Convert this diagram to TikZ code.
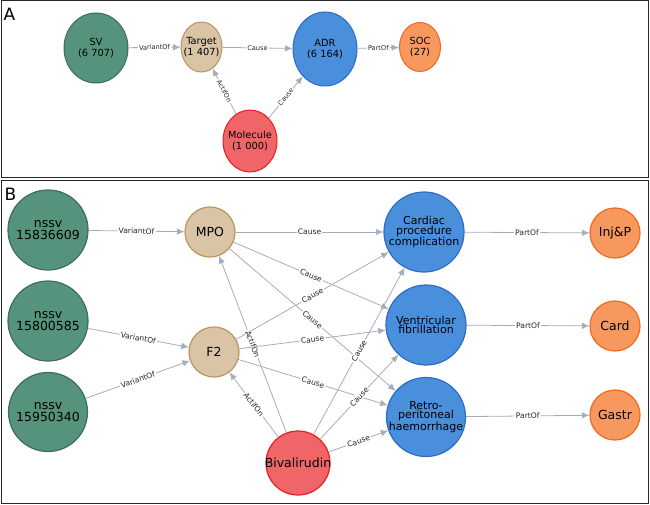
\documentclass[tikz,border=0pt]{standalone}
\usepackage{fontspec}
\setmainfont{DejaVu Sans}
\definecolor{varfill}{HTML}{55937C}
\definecolor{vardark}{HTML}{3D6E5B}
\definecolor{genefill}{HTML}{D9C4A6}
\definecolor{genedark}{HTML}{B8955F}
\definecolor{adrfill}{HTML}{4A8FDB}
\definecolor{adrdark}{HTML}{2B6CC4}
\definecolor{drugfill}{HTML}{F06568}
\definecolor{drugdark}{HTML}{E81E25}
\definecolor{socfill}{HTML}{F7995F}
\definecolor{socdark}{HTML}{F2691E}
\definecolor{linkgrey}{HTML}{A7ACBA}
\usetikzlibrary{arrows.meta, shapes.geometric}

\begin{document}
\begin{tikzpicture}[x=1pt, y=-1pt,
		bubble/.style={circle, line width=1.2pt, inner sep=0pt},
		blob/.style={ellipse, line width=1pt, inner sep=0pt},
		txt/.style={align=center, inner sep=0pt, font=\fontsize{12.5}{12}\selectfont},
		txtsmall/.style={txt, font=\fontsize{11}{9.6}\selectfont},
		txta/.style={txt, font=\fontsize{9.8}{11.5}\selectfont},
		var/.style={draw=vardark, fill=varfill},
		gene/.style={draw=genedark, fill=genefill},
		adr/.style={draw=adrdark, fill=adrfill},
		drug/.style={draw=drugdark, fill=drugfill},
		soc/.style={draw=socdark, fill=socfill},
		link/.style={draw=linkgrey, line width=0.8pt, -{Latex[length=7.5pt, width=6.5pt]}},
		lbl/.style={midway, sloped, fill=white, inner sep=1.2pt, text=black!85, font=\fontsize{7.6}{8}\selectfont},
		lbla/.style={lbl, font=\fontsize{6.6}{7}\selectfont}]
	\useasboundingbox (0,0) rectangle (650,505);
	% Frames
	\draw[line width=1pt, black!85] (1,1) rectangle (648,178);
	\draw[line width=1pt, black!85] (1,180.5) rectangle (648,503);
	\node[inner sep=0pt, font=\fontsize{17}{17}\selectfont] (panA) at (9.5,14) {A};
	\node[inner sep=0pt, font=\fontsize{17}{17}\selectfont] (panB) at (10.5,194) {B};
	
	% Panel A
	\node[blob, var, minimum width=64pt, minimum height=70pt, label={[txta]center:{SV\\(6 707)}}] (sv) at (96,48) {};
	\node[blob, gene, minimum width=41pt, minimum height=50pt, label={[txta]center:{Target\\(1 407)}}] (target) at (201.5,47) {};
	\node[blob, adr, minimum width=64pt, minimum height=74pt, label={[txta]center:{ADR\\(6 164)}}] (adr) at (325,49) {};
	\node[blob, soc, minimum width=41pt, minimum height=49pt, label={[txta]center:{SOC\\(27)}}] (soc) at (420,47) {};
	\node[blob, drug, minimum width=54pt, minimum height=62pt, label={[txta]center:{Molecule\\(1 000)}}] (molecule) at (250,141) {};
	
	\draw[link] (sv) -- node[lbla] {VariantOf} (target);
	\draw[link] (target) -- node[lbla] {Cause} (adr);
	\draw[link] (adr) -- node[lbla] {PartOf} (soc);
	\draw[link] (molecule) -- node[lbla] {ActifOn} (target);
	\draw[link] (molecule) -- node[lbla] {Cause} (adr);
	
	% Panel B
	\node[bubble, var, minimum size=80pt, label={[txt]center:{nssv\\15836609}}] (nssvA) at (48,230) {};
	\node[bubble, var, minimum size=80pt, label={[txt]center:{nssv\\15800585}}] (nssvB) at (48,321) {};
	\node[bubble, var, minimum size=79pt, label={[txt]center:{nssv\\15950340}}] (nssvC) at (48,412) {};
	\node[bubble, gene, minimum size=50pt, label={[txt]center:MPO}] (mpo) at (210,232) {};
	\node[bubble, gene, minimum size=50pt, label={[txt]center:F2}] (ftwo) at (214,352) {};
	\node[bubble, drug, minimum size=64pt, label={[txt]center:Bivalirudin}] (biv) at (298,463) {};
	\node[bubble, adr, minimum size=80pt, label={[txtsmall]center:{Cardiac\\procedure\\complication}}] (cardiac) at (424,232) {};
	\node[bubble, adr, minimum size=80pt, label={[txtsmall]center:{Ventricular\\fibrillation}}] (vent) at (426,325) {};
	\node[bubble, adr, minimum size=79pt, label={[txtsmall]center:{Retro-\\peritoneal\\haemorrhage}}] (retro) at (426,417) {};
	\node[bubble, soc, minimum size=50pt, label={[txt]center:{Inj\&P}}] (injp) at (615,233) {};
	\node[bubble, soc, minimum size=50pt, label={[txt]center:Card}] (card) at (615,326) {};
	\node[bubble, soc, minimum size=50pt, label={[txt]center:Gastr}] (gastr) at (615,415) {};
	
	\draw[link] (nssvA) -- node[lbl] {VariantOf} (mpo);
	\draw[link] (nssvB) -- node[lbl] {VariantOf} (ftwo);
	\draw[link] (nssvC) -- node[lbl] {VariantOf} (ftwo);
	\draw[link] (biv) -- node[lbl] {ActifOn} (mpo);
	\draw[link] (biv) -- node[lbl] {ActifOn} (ftwo);
	\foreach \src in {mpo, ftwo, biv}
	{
		\draw[link] (\src) -- node[lbl] {Cause} (cardiac);
		\draw[link] (\src) -- node[lbl] {Cause} (vent);
		\draw[link] (\src) -- node[lbl] {Cause} (retro);
	}
	\draw[link] (cardiac) -- node[lbl] {PartOf} (injp);
	\draw[link] (vent) -- node[lbl] {PartOf} (card);
	\draw[link] (retro) -- node[lbl] {PartOf} (gastr);
	
\end{tikzpicture}
\end{document}
